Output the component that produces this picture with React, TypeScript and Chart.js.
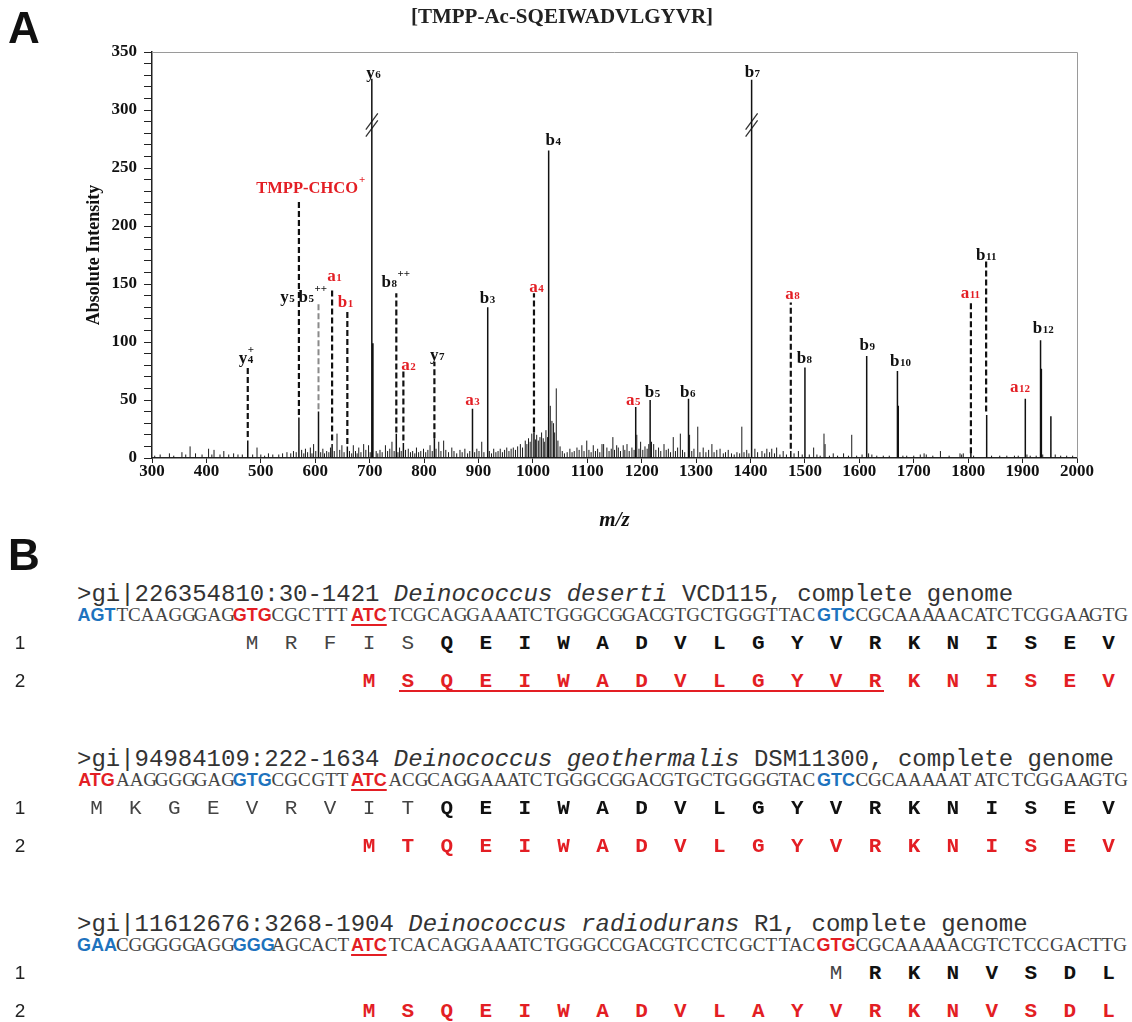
import React, { useEffect, useRef } from "react";
import { Chart, registerables } from "chart.js";
Chart.register(...registerables);

const SERIF = "'Liberation Serif', 'Times New Roman', serif";
const MONO = "'Liberation Mono', 'Courier New', monospace";
const SANS = "'Liberation Sans', Arial, sans-serif";
const RED = "#e31e24";
const BLUE = "#1e73be";

// ---------------- Panel A data ----------------
const chartTitle = "[TMPP-Ac-SQEIWADVLGYVR]";
const xLabel = "m/z";
const yLabel = "Absolute Intensity";
const xMin = 300;
const xMax = 2000;
const xStep = 100;
const yMin = 0;
const yMax = 350;
const yStep = 10;
const yLabelStep = 50;

// labelled / main solid peaks [m/z, intensity]
const mainPeaks: [number, number][] = [
  [476, 15], [570, 35], [606, 40], [631, 12], [659, 10], [704, 327], [706, 99],
  [749, 21], [762, 13], [819, 17], [889, 42.5], [917, 130], [1002, 22], [1029, 265],
  [1189, 44], [1215.5, 50], [1286, 51], [1402, 326], [1474, 6], [1500, 78],
  [1613.5, 88], [1670, 75], [1671.5, 45], [1805, 5], [1834, 37], [1905, 51],
  [1933, 101.5], [1934.5, 77], [1952, 36],
];

// background noise peaks [m/z, intensity]
const noisePeaks: [number, number][] = [
  [305, 2], [315, 3], [332, 4], [340, 2], [355, 5], [362, 3], [370, 10], [380, 4], [392, 3], [404, 8],
  [410, 3], [414, 7], [425, 3], [432, 6], [441, 3], [450, 4], [458, 3], [466, 3], [485, 3], [493, 9],
  [500, 3], [507, 2], [514, 4], [522, 3], [533, 3], [540, 4], [548, 5], [555, 4], [560, 6],
  [565, 5], [575, 7], [579, 4], [582, 8], [586, 5], [591, 9], [594, 4], [597, 12], [601, 6], [610, 5],
  [614, 8], [617, 4], [621, 6], [625, 5], [628, 9], [635, 6], [640, 21], [645, 7], [649, 11], [653, 5],
  [663, 6], [667, 4], [670, 11], [674, 6], [677, 4], [680, 9], [684, 5], [689, 12], [693, 7], [698, 11],
  [701, 5], [712, 6], [715, 4], [719, 7], [723, 5], [729, 11], [733, 6], [737, 8], [741, 14], [745, 6],
  [752, 5], [755, 9], [758, 6], [766, 7], [771, 8], [775, 5], [779, 6], [783, 4], [786, 9], [790, 5],
  [794, 6], [799, 8], [803, 5], [807, 7], [811, 11], [815, 6], [822, 8], [827, 14], [831, 6], [836, 15],
  [840, 7], [845, 5], [851, 9], [855, 6], [860, 4], [866, 7], [870, 5], [875, 8], [880, 4], [884, 6],
  [893, 5], [897, 8], [901, 6], [906, 14], [910, 5], [920, 6], [924, 4], [928, 8], [932, 5], [936, 6],
  [940, 8], [944, 5], [948, 7], [952, 9], [956, 6], [960, 8], [964, 9], [968, 7], [972, 10], [977, 12],
  [981, 9], [986, 15], [989, 12], [992, 17], [995, 14], [998, 21], [1005, 16], [1007, 20], [1010, 15],
  [1013, 18], [1016, 22], [1019, 17], [1021, 14], [1024, 24], [1027, 18], [1032, 45], [1035, 32],
  [1038, 30], [1040, 22], [1043, 60], [1046, 15], [1050, 10], [1054, 6], [1058, 4], [1063, 5], [1068, 8],
  [1072, 5], [1076, 6], [1081, 9], [1085, 7], [1090, 11], [1094, 6], [1099, 15], [1103, 7], [1107, 5],
  [1111, 11], [1115, 6], [1119, 8], [1123, 5], [1127, 12], [1130, 12], [1136, 9], [1140, 6], [1144, 8],
  [1147, 18], [1150, 7], [1154, 11], [1157, 9], [1161, 6], [1166, 11], [1169, 7], [1173, 12], [1177, 6],
  [1182, 9], [1186, 7], [1191, 20], [1195, 8], [1198, 14], [1202, 7], [1206, 10], [1210, 8], [1213, 12],
  [1218, 14], [1222, 12], [1226, 7], [1231, 9], [1235, 6], [1241, 12], [1245, 7], [1249, 8], [1253, 5],
  [1258, 18], [1262, 6], [1266, 9], [1271, 21], [1275, 7], [1279, 5], [1288, 20], [1292, 6], [1296, 8],
  [1303, 27], [1307, 5], [1313, 9], [1318, 5], [1323, 7], [1329, 12], [1333, 5], [1338, 7], [1344, 8],
  [1350, 4], [1354, 5], [1359, 7], [1365, 4], [1370, 3], [1375, 5], [1380, 4], [1384, 27], [1388, 5],
  [1393, 7], [1397, 4], [1408, 8], [1413, 5], [1421, 6], [1426, 4], [1430, 8], [1435, 5], [1439, 8],
  [1444, 4], [1448, 9], [1454, 3], [1460, 6], [1466, 3], [1480, 4], [1488, 6], [1495, 3], [1508, 3],
  [1516, 9], [1522, 3], [1528, 2], [1535, 21], [1537, 12], [1545, 2], [1552, 4], [1560, 2], [1571, 4],
  [1580, 2], [1586, 20], [1595, 2], [1605, 3], [1617, 4], [1623, 3], [1632, 2], [1644, 2], [1655, 2],
  [1680, 2], [1687, 2], [1700, 2], [1712, 3], [1719, 4], [1723, 3], [1735, 2], [1749, 6], [1765, 2],
  [1785, 4], [1788, 3], [1791, 4], [1810, 2], [1843, 2], [1858, 2], [1871, 2], [1885, 2], [1892, 2],
  [1908, 3], [1914, 2], [1925, 2], [1937, 3], [1960, 3], [1970, 2], [1981, 2], [1992, 2],
];

// dashed annotation lines (theoretical ions)
const dashedMz = [476, 570, 631, 659, 749, 762, 819, 1002, 1474, 1805, 1833];
const dashedTop = [78, 222, 146, 127, 142, 76, 83, 142, 134, 134, 170];
const dashedBottom = [18, 37, 15, 12, 22, 15, 17, 22, 8, 4, 40];
const greyDashedMz = [606];
const greyDashedTop = [134];
const greyDashedBottom = [42];

// axis-break marks on the off-scale peaks
const breakMz = [704, 1402];
const breakLevel = 287;

type IonLabel = { mz: number; y: number; main: string; sub?: string; sup?: string; color: string; stack?: boolean; size?: number };
const ionLabels: IonLabel[] = [
  { mz: 706.6, y: 331.6, main: "y", sub: "6", color: "#111" },
  { mz: 1402.9, y: 332.5, main: "b", sub: "7", color: "#111" },
  { mz: 1037, y: 273.9, main: "b", sub: "4", color: "#111" },
  { mz: 590.8, y: 232.5, main: "TMPP-CHCO", sup: "+", color: RED, size: 16.5 },
  { mz: 634.9, y: 156.6, main: "a", sub: "1", color: RED },
  { mz: 548.6, y: 138.5, main: "y", sub: "5", color: "#111" },
  { mz: 594.5, y: 138.5, main: "b", sub: "5", sup: "++", color: "#111" },
  { mz: 655.1, y: 134.2, main: "b", sub: "1", color: RED },
  { mz: 747, y: 151.5, main: "b", sub: "8", sup: "++", color: "#111" },
  { mz: 473, y: 86, main: "y", sub: "4", sup: "+", stack: true, color: "#111" },
  { mz: 771, y: 80, main: "a", sub: "2", color: RED },
  { mz: 824, y: 88.5, main: "y", sub: "7", color: "#111" },
  { mz: 888.5, y: 49.7, main: "a", sub: "3", color: RED },
  { mz: 916, y: 137.7, main: "b", sub: "3", color: "#111" },
  { mz: 1006, y: 147.2, main: "a", sub: "4", color: RED },
  { mz: 1184, y: 49.7, main: "a", sub: "5", color: RED },
  { mz: 1219.5, y: 56.6, main: "b", sub: "5", color: "#111" },
  { mz: 1284, y: 56.6, main: "b", sub: "6", color: "#111" },
  { mz: 1476.5, y: 141, main: "a", sub: "8", color: RED },
  { mz: 1498.5, y: 86, main: "b", sub: "8", color: "#111" },
  { mz: 1614, y: 97, main: "b", sub: "9", color: "#111" },
  { mz: 1675, y: 84, main: "b", sub: "10", color: "#111" },
  { mz: 1803.5, y: 142, main: "a", sub: "11", color: RED },
  { mz: 1832.8, y: 174.7, main: "b", sub: "11", color: "#111" },
  { mz: 1895, y: 61, main: "a", sub: "12", color: RED },
  { mz: 1937.5, y: 111.8, main: "b", sub: "12", color: "#111" },
];

// ---------------- Panel B data ----------------
const headerIds = [">gi|226354810:30-1421", ">gi|94984109:222-1634", ">gi|11612676:3268-1904"];
const speciesNames = ["Deinococcus deserti", "Deinococcus geothermalis", "Deinococcus radiodurans"];
const strainTexts = ["VCD115, complete genome", "DSM11300, complete genome", "R1, complete genome"];
const dnaSeqs = [
  "AGTTCAAGGGAGGTGCGCTTTATCTCGCAGGAAATCTGGGCGGACGTGCTGGGTTACGTCCGCAAAAACATCTCGGAAGTG",
  "ATGAAGGGGGAGGTGCGCGTTATCACGCAGGAAATCTGGGCGGACGTGCTGGGGTACGTCCGCAAAAATATCTCGGAAGTG",
  "GAACGGGGGAGGGGGAGCACTATCTCACAGGAAATCTGGGCCGACGTCCTCGCTTACGTGCGCAAAAACGTCTCCGACTTG",
];
// [codon index, colour, underlined]
const codonMarks: [number, string, boolean][][] = [
  [[0, BLUE, false], [4, RED, false], [7, RED, true], [19, BLUE, false]],
  [[0, RED, false], [4, BLUE, false], [7, RED, true], [19, BLUE, false]],
  [[0, BLUE, false], [4, BLUE, false], [7, RED, true], [19, RED, false]],
];
const row1Starts = [4, 0, 19];
const row1PlainCounts = [5, 9, 1];
const row1Seqs = ["MRFISQEIWADVLGYVRKNISEV", "MKGEVRVITQEIWADVLGYVRKNISEV", "MRKNVSDL"];
const row2Starts = [7, 7, 7];
const row2Seqs = ["MSQEIWADVLGYVRKNISEV", "MTQEIWADVLGYVRKNISEV", "MSQEIWADVLAYVRKNVSDL"];
const underlineCodons: ([number, number] | null)[] = [[8, 20], null, null];

// layout constants
const sectionY = [595, 760, 925];
const DNA_X = 77;
const CODON_W = 38.93;
const codonCenter = (i: number) => DNA_X + CODON_W * (i + 0.5);

function stickPoints(list: [number, number][]) {
  const out: { x: number; y: number | null }[] = [];
  list.slice().sort((a, b) => a[0] - b[0]).forEach(([x, y]) => {
    out.push({ x, y: 0 }, { x, y }, { x, y: null });
  });
  return out;
}
function dashPoints(mz: number[], top: number[], bottom: number[]) {
  const out: { x: number; y: number | null }[] = [];
  mz.forEach((x, i) => {
    out.push({ x, y: bottom[i] }, { x, y: top[i] }, { x, y: null });
  });
  return out;
}
function breakPoints() {
  const out: { x: number; y: number | null }[] = [];
  breakMz.forEach((x) => {
    out.push({ x: x - 11, y: breakLevel - 10 }, { x: x + 11, y: breakLevel + 4 }, { x, y: null });
    out.push({ x: x - 11, y: breakLevel - 4 }, { x: x + 11, y: breakLevel + 10 }, { x, y: null });
  });
  return out;
}

const labelPlugin = {
  id: "ionLabels",
  afterDatasetsDraw(chart: any) {
    const { ctx } = chart;
    const xs = chart.scales.x;
    const ys = chart.scales.y;
    ctx.save();
    ctx.textAlign = "left";
    ctx.textBaseline = "alphabetic";
    ionLabels.forEach((l) => {
      const px = xs.getPixelForValue(l.mz);
      const py = ys.getPixelForValue(l.y);
      const mainFont = `bold ${l.size || 17}px ${SERIF}`;
      const smallFont = `bold 11px ${SERIF}`;
      ctx.font = mainFont;
      const wm = ctx.measureText(l.main).width;
      ctx.font = smallFont;
      const ws = l.sub ? ctx.measureText(l.sub).width : 0;
      const wp = l.sup ? ctx.measureText(l.sup).width : 0;
      const total = wm + (l.stack ? Math.max(ws, wp) : ws + wp);
      let cx = px - total / 2;
      const base = py + 5;
      ctx.fillStyle = l.color;
      ctx.font = mainFont;
      ctx.fillText(l.main, cx, base);
      cx += wm;
      ctx.font = smallFont;
      if (l.sub) ctx.fillText(l.sub, cx + 0.5, base);
      if (l.sup) ctx.fillText(l.sup, l.stack ? cx + 0.5 : cx + ws + 1, base - 10);
    });
    ctx.restore();
  },
};

const framePlugin = {
  id: "frame",
  afterDraw(chart: any) {
    const { ctx, chartArea } = chart;
    ctx.save();
    ctx.strokeStyle = "#9a9a9a";
    ctx.lineWidth = 1;
    ctx.beginPath();
    ctx.moveTo(chartArea.left, chartArea.top + 0.5);
    ctx.lineTo(chartArea.right + 0.5, chartArea.top + 0.5);
    ctx.lineTo(chartArea.right + 0.5, chartArea.bottom);
    ctx.stroke();
    ctx.restore();
  },
};

function Spectrum() {
  const ref = useRef<HTMLCanvasElement | null>(null);
  useEffect(() => {
    if (!ref.current) return;
    const tickFont = { family: SERIF, size: 17, weight: "bold" as const };
    const chart = new Chart(ref.current, {
      type: "line",
      data: {
        datasets: [
          {
            data: stickPoints(noisePeaks) as any,
            borderColor: "#1a1a1a",
            borderWidth: 1,
            pointRadius: 0,
            spanGaps: false,
            fill: false,
          },
          {
            data: stickPoints(mainPeaks) as any,
            borderColor: "#111",
            borderWidth: 1.5,
            pointRadius: 0,
            spanGaps: false,
            fill: false,
          },
          {
            data: dashPoints(dashedMz, dashedTop, dashedBottom) as any,
            borderColor: "#111",
            borderWidth: 2.2,
            borderDash: [6, 3],
            pointRadius: 0,
            spanGaps: false,
            fill: false,
          },
          {
            data: dashPoints(greyDashedMz, greyDashedTop, greyDashedBottom) as any,
            borderColor: "#8a8a8a",
            borderWidth: 2,
            borderDash: [6, 3],
            pointRadius: 0,
            spanGaps: false,
            fill: false,
          },
          {
            data: breakPoints() as any,
            borderColor: "#333",
            borderWidth: 1.3,
            pointRadius: 0,
            spanGaps: false,
            fill: false,
          },
        ],
      },
      options: {
        responsive: false,
        animation: false,
        devicePixelRatio: 1,
        layout: { padding: { left: 0, right: 55, top: 52, bottom: 0 } },
        plugins: { legend: { display: false }, tooltip: { enabled: false }, title: { display: false } },
        scales: {
          x: {
            type: "linear",
            min: xMin,
            max: xMax,
            afterFit: (s: any) => { s.height = 82; },
            ticks: {
              stepSize: xStep,
              autoSkip: false,
              maxRotation: 0,
              color: "#111",
              font: tickFont,
              padding: -2,
              callback: (v: any) => String(v),
            },
            grid: { drawOnChartArea: false, drawTicks: true, tickLength: 5, color: "#222" },
            border: { display: true, color: "#222", width: 1.5 },
            title: {
              display: true,
              text: xLabel,
              color: "#111",
              font: { family: SERIF, size: 21, weight: "bold", style: "italic" },
              padding: { top: 0, bottom: 7 },
            },
          },
          y: {
            type: "linear",
            min: yMin,
            max: yMax,
            afterFit: (s: any) => { s.width = 152; },
            ticks: {
              stepSize: yStep,
              autoSkip: false,
              color: "#111",
              font: tickFont,
              padding: 7,
              callback: (v: any) => (Number(v) % yLabelStep === 0 ? String(v) : ""),
            },
            grid: { drawOnChartArea: false, drawTicks: true, tickLength: 8, color: "#222" },
            border: { display: true, color: "#222", width: 1.5 },
            title: {
              display: true,
              text: yLabel,
              color: "#111",
              font: { family: SERIF, size: 18, weight: "bold" },
              padding: { top: 84, bottom: 0 },
            },
          },
        },
      },
      plugins: [labelPlugin, framePlugin],
    });
    return () => chart.destroy();
  }, []);
  return (
    <canvas
      ref={ref}
      width={1132}
      height={540}
      style={{ position: "absolute", left: 0, top: 0, width: 1132, height: 540 }}
    />
  );
}

function AARow({ start, seq, plain, y, color, weightAll }: { start: number; seq: string; plain: number; y: number; color?: string; weightAll?: boolean }) {
  return (
    <>
      {seq.split("").map((aa, i) => {
        const isPlain = !weightAll && i < plain;
        return (
          <div
            key={i}
            style={{
              position: "absolute",
              left: codonCenter(start + i) - 15,
              width: 30,
              top: y - 10.5,
              height: 21,
              lineHeight: "21px",
              textAlign: "center",
              fontFamily: MONO,
              fontSize: 21,
              fontWeight: isPlain ? "normal" : "bold",
              color: color ? color : isPlain ? "#444" : "#111",
            }}
          >
            {aa}
          </div>
        );
      })}
    </>
  );
}

function Section({ k }: { k: number }) {
  const y = sectionY[k];
  const seq = dnaSeqs[k];
  const codons: string[] = [];
  for (let i = 0; i < seq.length; i += 3) codons.push(seq.slice(i, i + 3));
  const marks = codonMarks[k];
  const ul = underlineCodons[k];
  return (
    <>
      <div
        style={{
          position: "absolute",
          left: DNA_X,
          top: y - 12,
          lineHeight: "24px",
          fontFamily: MONO,
          fontSize: 24,
          color: "#333",
          whiteSpace: "pre",
        }}
      >
        {headerIds[k] + " "}
        <i>{speciesNames[k]}</i>
        {" " + strainTexts[k]}
      </div>
      <div
        style={{
          position: "absolute",
          left: DNA_X,
          top: y + 20 - 10,
          lineHeight: "20px",
          height: 24,
          whiteSpace: "nowrap",
          fontFamily: SERIF,
          fontSize: 19,
          color: "#444",
        }}
      >
        {codons.map((c, i) => {
          const m = marks.find((mm) => mm[0] === i);
          return (
            <span
              key={i}
              style={{
                display: "inline-block",
                width: CODON_W,
                textAlign: "center",
                fontFamily: m ? SANS : SERIF,
                fontWeight: m ? "bold" : "normal",
                fontSize: m ? 18 : 19,
                color: m ? m[1] : "#444",
                textDecoration: m && m[2] ? "underline" : "none",
                textDecorationThickness: m && m[2] ? "2px" : undefined,
                textUnderlineOffset: "3px",
              }}
            >
              {c}
            </span>
          );
        })}
      </div>
      <div style={{ position: "absolute", left: 12, width: 16, top: y + 48 - 11, lineHeight: "22px", fontFamily: SANS, fontSize: 19, color: "#222", textAlign: "center" }}>1</div>
      <div style={{ position: "absolute", left: 12, width: 16, top: y + 86 - 11, lineHeight: "22px", fontFamily: SANS, fontSize: 19, color: "#222", textAlign: "center" }}>2</div>
      <AARow start={row1Starts[k]} seq={row1Seqs[k]} plain={row1PlainCounts[k]} y={y + 48} />
      <AARow start={row2Starts[k]} seq={row2Seqs[k]} plain={0} y={y + 86} color={RED} weightAll />
      {ul && (
        <div
          style={{
            position: "absolute",
            left: codonCenter(ul[0]) - 9,
            width: codonCenter(ul[1]) - codonCenter(ul[0]) + 18,
            top: y + 86 + 9,
            height: 2,
            background: RED,
          }}
        />
      )}
    </>
  );
}

export default function App() {
  return (
    <div style={{ position: "absolute", left: 0, top: 0, width: 1132, height: 1022, background: "#fff", overflow: "hidden" }}>
      <Spectrum />
      <div
        style={{
          position: "absolute",
          left: 0,
          width: 1124,
          top: 5,
          lineHeight: "22px",
          textAlign: "center",
          fontFamily: SERIF,
          fontWeight: "bold",
          fontSize: 21,
          color: "#222",
        }}
      >
        {chartTitle}
      </div>
      <div style={{ position: "absolute", left: 8, top: 6, lineHeight: "44px", fontFamily: SANS, fontWeight: "bold", fontSize: 44, color: "#111" }}>A</div>
      <div style={{ position: "absolute", left: 8, top: 533, lineHeight: "44px", fontFamily: SANS, fontWeight: "bold", fontSize: 44, color: "#111" }}>B</div>
      {sectionY.map((_, k) => (
        <Section key={k} k={k} />
      ))}
    </div>
  );
}
